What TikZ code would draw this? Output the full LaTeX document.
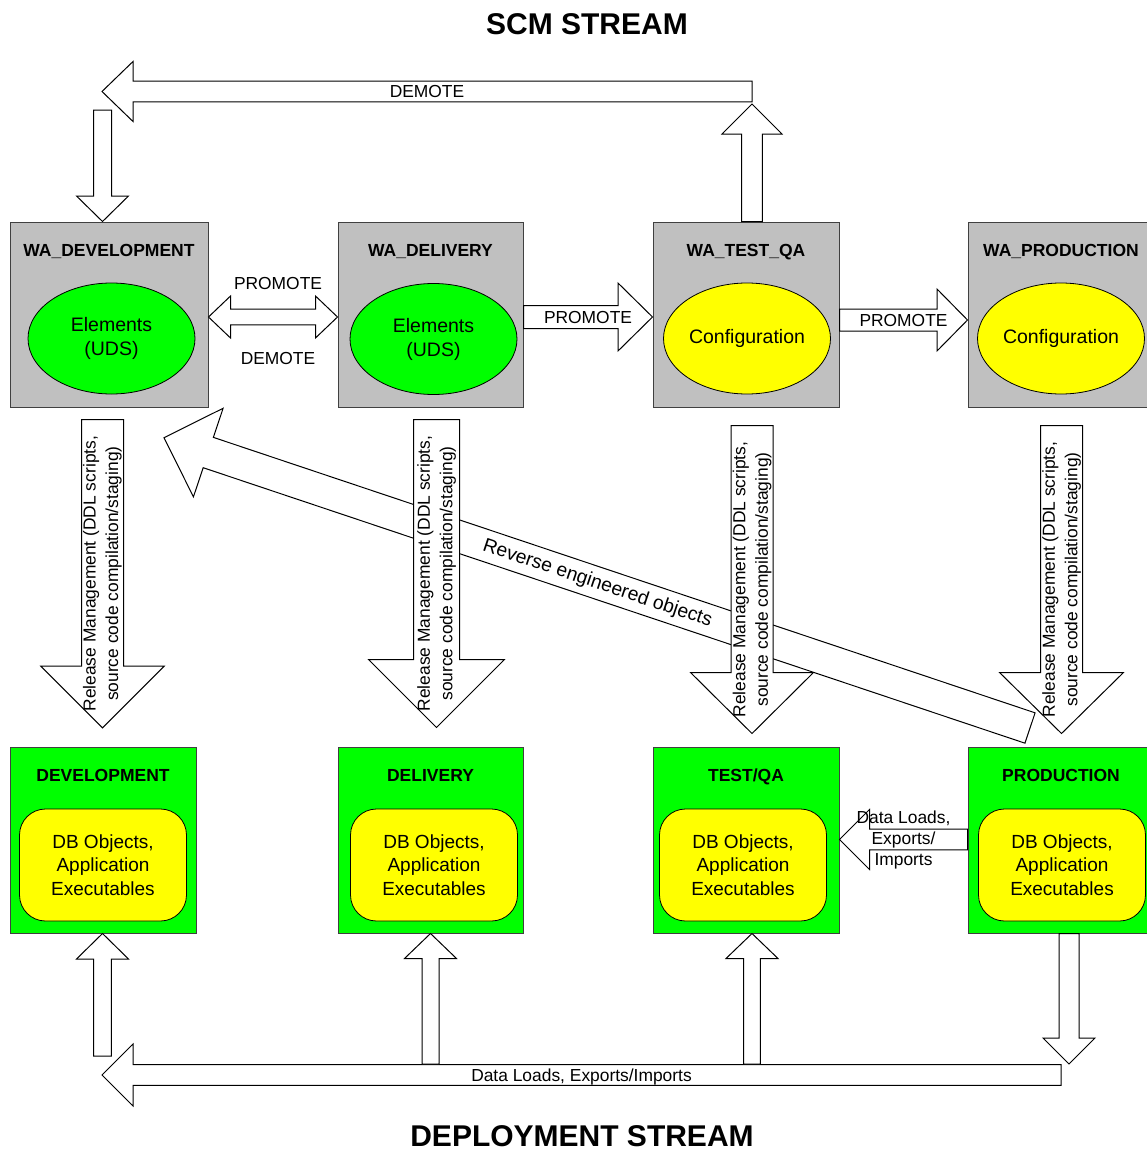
\documentclass[tikz,border=0pt]{standalone}
\usepackage{fontspec}
\setmainfont{Liberation Sans}
\usetikzlibrary{calc,shapes.geometric}

\definecolor{wagray}{RGB}{192,192,192}
\definecolor{envgreen}{RGB}{0,255,0}
\definecolor{objyellow}{RGB}{255,255,0}

\tikzset{
  wabox/.style={draw=black!75, fill=wagray, line width=1pt, minimum height=185pt, inner sep=0pt},
  envbox/.style={draw=black!75, fill=envgreen, line width=1pt, minimum height=186pt, inner sep=0pt},
  boxtitle/.style={font=\fontsize{17.5}{21}\selectfont\bfseries, text height=12.5pt, text depth=0pt, inner sep=0pt},
  elem/.style={ellipse, draw, line width=0.8pt, minimum width=167pt, minimum height=111pt, inner sep=0pt, align=center, font=\fontsize{19.5}{24}\selectfont},
  dbobj/.style={draw, fill=objyellow, line width=0.8pt, rounded corners=26pt, minimum width=167pt, minimum height=112pt, inner sep=0pt, align=center, font=\fontsize{19}{23.5}\selectfont},
  blk/.style={draw, fill=white, line width=1pt},
  arrlabel/.style={font=\fontsize{17.4}{21}\selectfont, text height=12.5pt, text depth=0pt, inner sep=0pt},
  revlabel/.style={font=\fontsize{19.3}{23}\selectfont, text height=13.8pt, text depth=0pt, inner sep=0pt},
  stacklabel/.style={font=\fontsize{17.4}{21}\selectfont, align=center, inner sep=0pt},
  rellabel/.style={font=\fontsize{17.4}{22.5}\selectfont, align=center, inner sep=0pt, rotate=90},
  stream/.style={font=\fontsize{30}{36}\selectfont\bfseries, text height=21.5pt, text depth=0pt, inner sep=0pt},
}

% block arrow: start, tip, half shaft, half head, head length
\newcommand\blockarrow[5]{%
  \coordinate (ba) at ($#2!#5!#1$);
  \draw[blk] ($#1!#3!90:#2$) -- ($(ba)!#3!90:#2$) -- ($(ba)!#4!90:#2$) -- #2
    -- ($(ba)!#4!-90:#2$) -- ($(ba)!#3!-90:#2$) -- ($#1!#3!-90:#2$) -- cycle;}
% same, with a head at both ends
\newcommand\dblarrow[5]{%
  \coordinate (ba) at ($#2!#5!#1$);
  \coordinate (bb) at ($#1!#5!#2$);
  \draw[blk] #1 -- ($(bb)!#4!90:#2$) -- ($(bb)!#3!90:#2$) -- ($(ba)!#3!90:#2$)
    -- ($(ba)!#4!90:#2$) -- #2 -- ($(ba)!#4!-90:#2$) -- ($(ba)!#3!-90:#2$)
    -- ($(bb)!#3!-90:#2$) -- ($(bb)!#4!-90:#2$) -- cycle;}

\begin{document}
\begin{tikzpicture}[x=1pt,y=-1pt]
\useasboundingbox (0,0) rectangle (1147,1151);
\clip (0,0) rectangle (1147,1151);

\node[stream] (scm) at (587,24) {SCM STREAM};
\node[stream] (deploy) at (582,1136) {DEPLOYMENT STREAM};

% work areas
\node[wabox, minimum width=198pt] (wadev) at (109,314.5) {};
\node[wabox, minimum width=185pt] (wadel) at (430.5,314.5) {};
\node[wabox, minimum width=186pt] (watest) at (746,314.5) {};
\node[wabox, minimum width=186pt] (waprod) at (1061,314.5) {};

\node[boxtitle] at ($(wadev.north)+(0,29)$) {WA\_DEVELOPMENT};
\node[boxtitle] at ($(wadel.north)+(0,29)$) {WA\_DELIVERY};
\node[boxtitle] at ($(watest.north)+(0,29)$) {WA\_TEST\_QA};
\node[boxtitle] at ($(waprod.north)+(0,29)$) {WA\_PRODUCTION};

\node[elem, fill=envgreen] (eldev) at (111.5,338.5) {Elements\\(UDS)};
\node[elem, fill=envgreen] (eldel) at (433.5,339) {Elements\\(UDS)};
\node[elem, fill=objyellow] (cftest) at (747,338.5) {Configuration};
\node[elem, fill=objyellow] (cfprod) at (1061,338.5) {Configuration};

% environments
\node[envbox, minimum width=186pt] (dev) at (103,840) {};
\node[envbox, minimum width=185pt] (del) at (430.5,840) {};
\node[envbox, minimum width=186pt] (test) at (746,840) {};
\node[envbox, minimum width=186pt] (prod) at (1061,840) {};

\node[boxtitle] at ($(dev.north)+(0,29)$) {DEVELOPMENT};
\node[boxtitle] at ($(del.north)+(0,29)$) {DELIVERY};
\node[boxtitle] at ($(test.north)+(0,29)$) {TEST/QA};
\node[boxtitle] at ($(prod.north)+(0,29)$) {PRODUCTION};

\node[dbobj] (dbdev) at (103,865) {DB Objects,\\Application\\Executables};
\node[dbobj] (dbdel) at (434,865) {DB Objects,\\Application\\Executables};
\node[dbobj] (dbtest) at (743,865) {DB Objects,\\Application\\Executables};
\node[dbobj] (dbprod) at (1062,865) {DB Objects,\\Application\\Executables};

% demote back to development
\coordinate (tqup) at ($(watest.north)+(6,0)$);
\coordinate (tqtop) at (752,104);
\blockarrow{(tqup)}{(tqtop)}{10.3pt}{30pt}{30pt}
\coordinate (demR) at (752,91.5);
\coordinate (demL) at (102,91.5);
\blockarrow{(demR)}{(demL)}{10.3pt}{30pt}{31pt}
\node[arrlabel] at ($(demR)!0.5!(demL)$) {DEMOTE};
\coordinate (devtop) at (102.5,110);
\coordinate (devin) at ($(wadev.north)+(-6.5,0)$);
\blockarrow{(devtop)}{(devin)}{9pt}{26pt}{25.5pt}

% promote
\coordinate (pd1) at ($(wadev.east)+(0,2.5)$);
\coordinate (pd2) at ($(wadel.west)+(0,2.5)$);
\dblarrow{(pd1)}{(pd2)}{7.8pt}{21pt}{22pt}
\node[arrlabel] at ($(pd1)!0.5!(pd2)+(5,-34)$) {PROMOTE};
\node[arrlabel] at ($(pd1)!0.5!(pd2)+(5,41)$) {DEMOTE};

\coordinate (p1) at ($(wadel.east)+(0,2.5)$);
\coordinate (p2) at ($(watest.west)+(0,2.5)$);
\blockarrow{(p1)}{(p2)}{11.5pt}{34pt}{34.5pt}
\node[arrlabel] at ($(p1)!0.5!(p2)$) {PROMOTE};

\coordinate (p3) at ($(watest.east)+(0,5.5)$);
\coordinate (p4) at ($(waprod.west)+(0,5.5)$);
\blockarrow{(p3)}{(p4)}{11pt}{31pt}{30.5pt}
\node[arrlabel] at ($(p3)!0.5!(p4)$) {PROMOTE};

% reverse engineering
\coordinate (revS) at (1030,728);
\coordinate (revE) at (164,437.7);
\blockarrow{(revS)}{(revE)}{16pt}{46.7pt}{46.7pt}
\node[revlabel, rotate=-18.55] at ($(revS)!0.5!(revE)+(1,-1)$) {Reverse engineered objects};

% release management
\coordinate (rdev1) at ($(wadev.south)+(-6.5,12)$);
\coordinate (rdev2) at ($(dev.north)+(-0.5,-18.7)$);
\blockarrow{(rdev1)}{(rdev2)}{21pt}{61.6pt}{61.6pt}
\node[rellabel] at ($(rdev1)!0.5!(rdev2)$) {Release Management (DDL scripts,\\source code compilation/staging)};

\coordinate (rdel1) at ($(wadel.south)+(6,12)$);
\coordinate (rdel2) at ($(del.north)+(6,-19)$);
\blockarrow{(rdel1)}{(rdel2)}{23pt}{68pt}{68pt}
\node[rellabel] at ($(rdel1)!0.5!(rdel2)$) {Release Management (DDL scripts,\\source code compilation/staging)};

\coordinate (rtest1) at ($(watest.south)+(6,18)$);
\coordinate (rtest2) at ($(test.north)+(6,-13)$);
\blockarrow{(rtest1)}{(rtest2)}{21pt}{61.5pt}{61pt}
\node[rellabel] at ($(rtest1)!0.5!(rtest2)$) {Release Management (DDL scripts,\\source code compilation/staging)};

\coordinate (rprod1) at ($(waprod.south)+(0.5,18)$);
\coordinate (rprod2) at ($(prod.north)+(0.5,-13)$);
\blockarrow{(rprod1)}{(rprod2)}{21pt}{62pt}{61pt}
\node[rellabel] at ($(rprod1)!0.5!(rprod2)$) {Release Management (DDL scripts,\\source code compilation/staging)};

% data loads
\coordinate (dl1) at ($(prod.west)+(0,-0.5)$);
\coordinate (dl2) at ($(test.east)+(0,-0.5)$);
\blockarrow{(dl1)}{(dl2)}{10.3pt}{30pt}{30pt}
\node[stacklabel] at ($(dl1)!0.5!(dl2)$) {Data Loads,\\Exports/\\Imports};

\coordinate (bigR) at (1061,1075);
\coordinate (bigL) at (102,1075);
\blockarrow{(bigR)}{(bigL)}{10.3pt}{31pt}{31pt}
\node[arrlabel] at ($(bigR)!0.5!(bigL)$) {Data Loads, Exports/Imports};

\coordinate (devbot) at (102.5,1056);
\coordinate (devup) at ($(dev.south)+(-0.5,0)$);
\blockarrow{(devbot)}{(devup)}{8.8pt}{26pt}{25.5pt}
\coordinate (delbot) at (430.5,1064);
\coordinate (delup) at (del.south);
\blockarrow{(delbot)}{(delup)}{8.5pt}{26pt}{25pt}
\coordinate (testbot) at (752,1064);
\coordinate (testup) at ($(test.south)+(6,0)$);
\blockarrow{(testbot)}{(testup)}{8.4pt}{26pt}{25pt}
\coordinate (proddn) at ($(prod.south)+(8,0)$);
\coordinate (prodbot) at (1069,1064);
\blockarrow{(proddn)}{(prodbot)}{10pt}{26pt}{26pt}
\end{tikzpicture}
\end{document}
